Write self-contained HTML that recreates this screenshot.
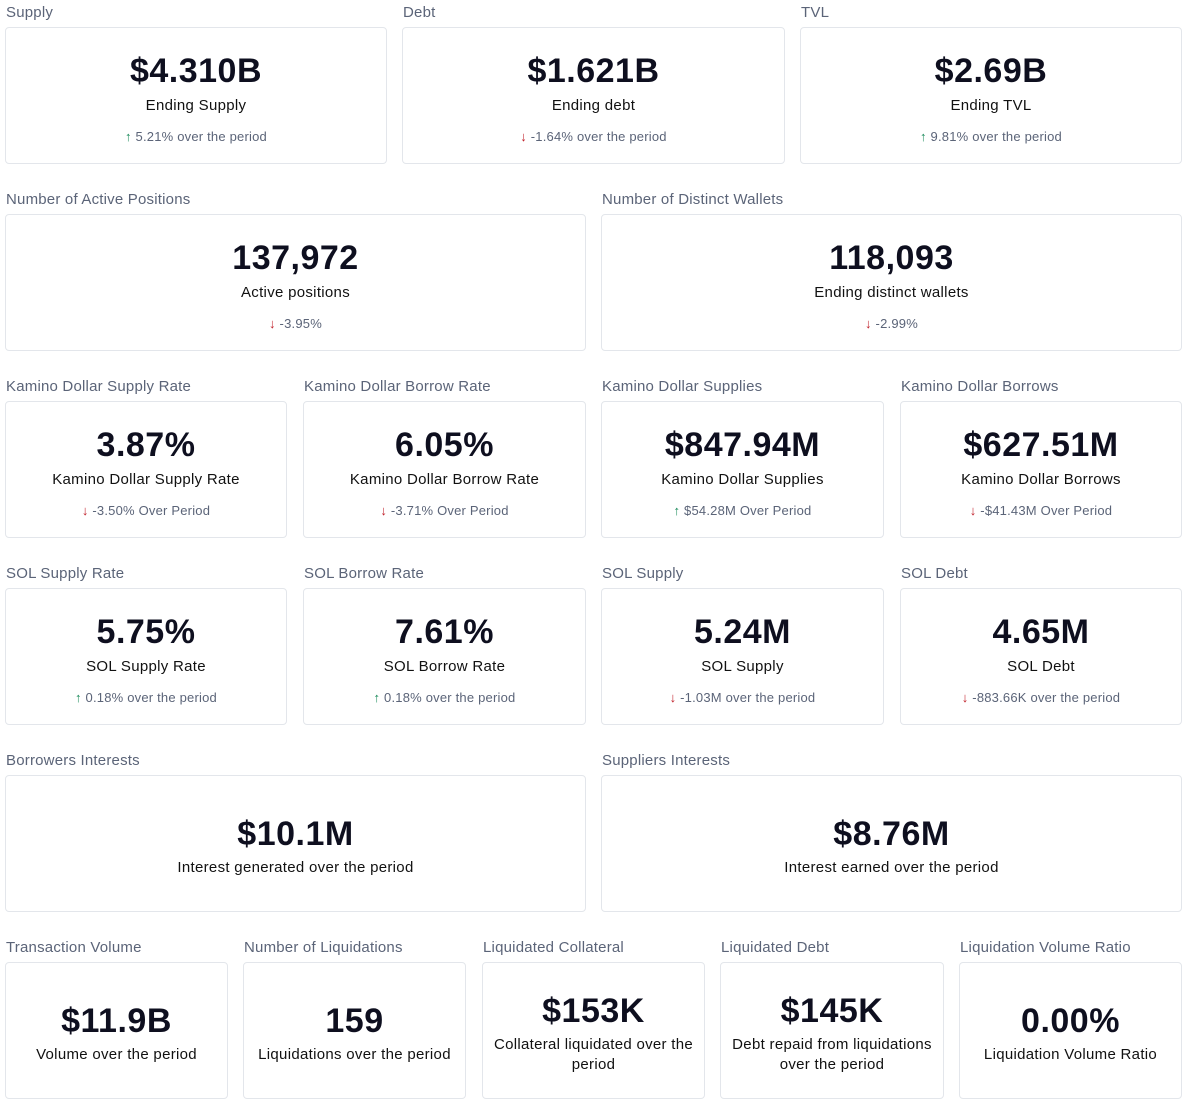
<!DOCTYPE html>
<html><head><meta charset="utf-8"><style>
body{margin:0;width:1190px;height:1107px;background:#fff;font-family:"Liberation Sans",sans-serif;position:relative;overflow:hidden}
.c{position:absolute;height:137px;border:1px solid #e3e6eb;border-radius:4px;box-sizing:border-box}
.t{position:absolute;top:-25px;left:0;font-size:15px;line-height:20px;color:#5b6478;white-space:nowrap;letter-spacing:0.2px}
.v{position:absolute;left:0;right:0;text-align:center;font-weight:bold;font-size:34px;line-height:40px;color:#0e0f1f;top:23px;letter-spacing:0.5px}
.l{position:absolute;left:6px;right:6px;text-align:center;font-size:15px;line-height:20px;color:#111;top:68px;letter-spacing:0.3px}
.d{position:absolute;left:0;right:0;text-align:center;font-size:13px;line-height:18px;color:#5b6478;top:100px;letter-spacing:0.2px}
.up{color:#1a8a5a;font-weight:bold}.dn{color:#c0202a;font-weight:bold}
.r5 .v{top:38px}.r5 .l{top:82px}
.two .v{top:28px}.two .l{top:72px}
</style></head><body>
<div class="c" style="left:5px;top:27px;width:382px"><div class="t">Supply</div><div class="v">$4.310B</div><div class="l">Ending Supply</div><div class="d"><span class="up">↑</span> 5.21% over the period</div></div>
<div class="c" style="left:402px;top:27px;width:383px"><div class="t">Debt</div><div class="v">$1.621B</div><div class="l">Ending debt</div><div class="d"><span class="dn">↓</span> -1.64% over the period</div></div>
<div class="c" style="left:800px;top:27px;width:382px"><div class="t">TVL</div><div class="v">$2.69B</div><div class="l">Ending TVL</div><div class="d"><span class="up">↑</span> 9.81% over the period</div></div>

<div class="c" style="left:5px;top:214px;width:581px"><div class="t">Number of Active Positions</div><div class="v">137,972</div><div class="l">Active positions</div><div class="d"><span class="dn">↓</span> -3.95%</div></div>
<div class="c" style="left:601px;top:214px;width:581px"><div class="t">Number of Distinct Wallets</div><div class="v">118,093</div><div class="l">Ending distinct wallets</div><div class="d"><span class="dn">↓</span> -2.99%</div></div>

<div class="c" style="left:5px;top:401px;width:282px"><div class="t">Kamino Dollar Supply Rate</div><div class="v">3.87%</div><div class="l">Kamino Dollar Supply Rate</div><div class="d"><span class="dn">↓</span> -3.50% Over Period</div></div>
<div class="c" style="left:303px;top:401px;width:283px"><div class="t">Kamino Dollar Borrow Rate</div><div class="v">6.05%</div><div class="l">Kamino Dollar Borrow Rate</div><div class="d"><span class="dn">↓</span> -3.71% Over Period</div></div>
<div class="c" style="left:601px;top:401px;width:283px"><div class="t">Kamino Dollar Supplies</div><div class="v">$847.94M</div><div class="l">Kamino Dollar Supplies</div><div class="d"><span class="up">↑</span> $54.28M Over Period</div></div>
<div class="c" style="left:900px;top:401px;width:282px"><div class="t">Kamino Dollar Borrows</div><div class="v">$627.51M</div><div class="l">Kamino Dollar Borrows</div><div class="d"><span class="dn">↓</span> -$41.43M Over Period</div></div>

<div class="c" style="left:5px;top:588px;width:282px"><div class="t">SOL Supply Rate</div><div class="v">5.75%</div><div class="l">SOL Supply Rate</div><div class="d"><span class="up">↑</span> 0.18% over the period</div></div>
<div class="c" style="left:303px;top:588px;width:283px"><div class="t">SOL Borrow Rate</div><div class="v">7.61%</div><div class="l">SOL Borrow Rate</div><div class="d"><span class="up">↑</span> 0.18% over the period</div></div>
<div class="c" style="left:601px;top:588px;width:283px"><div class="t">SOL Supply</div><div class="v">5.24M</div><div class="l">SOL Supply</div><div class="d"><span class="dn">↓</span> -1.03M over the period</div></div>
<div class="c" style="left:900px;top:588px;width:282px"><div class="t">SOL Debt</div><div class="v">4.65M</div><div class="l">SOL Debt</div><div class="d"><span class="dn">↓</span> -883.66K over the period</div></div>

<div class="c r5" style="left:5px;top:775px;width:581px"><div class="t">Borrowers Interests</div><div class="v">$10.1M</div><div class="l">Interest generated over the period</div></div>
<div class="c r5" style="left:601px;top:775px;width:581px"><div class="t">Suppliers Interests</div><div class="v">$8.76M</div><div class="l">Interest earned over the period</div></div>

<div class="c r5" style="left:5px;top:962px;width:223px"><div class="t">Transaction Volume</div><div class="v">$11.9B</div><div class="l">Volume over the period</div></div>
<div class="c r5" style="left:243px;top:962px;width:223px"><div class="t">Number of Liquidations</div><div class="v">159</div><div class="l">Liquidations over the period</div></div>
<div class="c two" style="left:482px;top:962px;width:223px"><div class="t">Liquidated Collateral</div><div class="v">$153K</div><div class="l">Collateral liquidated over the period</div></div>
<div class="c two" style="left:720px;top:962px;width:224px"><div class="t">Liquidated Debt</div><div class="v">$145K</div><div class="l">Debt repaid from liquidations over the period</div></div>
<div class="c r5" style="left:959px;top:962px;width:223px"><div class="t">Liquidation Volume Ratio</div><div class="v">0.00%</div><div class="l">Liquidation Volume Ratio</div></div>
</body></html>
